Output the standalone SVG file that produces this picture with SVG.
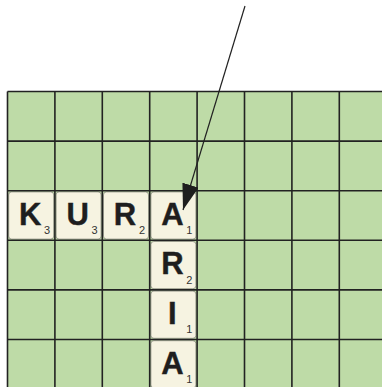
<svg xmlns="http://www.w3.org/2000/svg" width="382" height="387" viewBox="0 0 382 387">
<defs>
<style>
.board{fill:#bedba7}
.grid line{stroke:#222;stroke-width:1.6}
.tile rect{fill:#f6f3e1;stroke:#8a8a80;stroke-width:0.8}
.let{font-family:"Liberation Sans",Arial,sans-serif;font-weight:bold;font-size:31px;fill:#1e1e1e;text-anchor:middle;stroke:#1e1e1e;stroke-width:0.4}
.num{font-family:"Liberation Sans",Arial,sans-serif;font-size:11px;fill:#333;text-anchor:end}
.conn{stroke:#222;stroke-width:1.2;fill:none}
</style>
<marker id="ah" viewBox="0 0 26 17" refX="26" refY="8.5" markerWidth="26" markerHeight="17" markerUnits="userSpaceOnUse" orient="auto">
<path d="M0,0 L26,8.5 L0,17 z" fill="#1e1e1e"/>
</marker>
</defs>
<rect class="board" x="7.5" y="91.5" width="375" height="296"/>
<g id="tile-K" class="tile"><rect x="8.7" y="191.9" width="45" height="47.2" rx="3"/><text class="let" x="30.2" y="224.7">K</text><text class="num" x="50.2" y="234">3</text></g>
<g id="tile-U" class="tile"><rect x="56.1" y="191.9" width="45" height="47.2" rx="3"/><text class="let" x="77.6" y="224.7">U</text><text class="num" x="97.6" y="234">3</text></g>
<g id="tile-R" class="tile"><rect x="103.5" y="191.9" width="45" height="47.2" rx="3"/><text class="let" x="125" y="224.7">R</text><text class="num" x="145" y="234">2</text></g>
<g id="tile-A1" class="tile"><rect x="150.9" y="191.9" width="45" height="47.2" rx="3"/><text class="let" x="172.4" y="224.7">A</text><text class="num" x="192.4" y="234">1</text></g>
<g id="tile-R2" class="tile"><rect x="150.9" y="241.5" width="45" height="47.2" rx="3"/><text class="let" x="172.4" y="274.3">R</text><text class="num" x="192.4" y="283.6">2</text></g>
<g id="tile-I" class="tile"><rect x="150.9" y="291.1" width="45" height="47.2" rx="3"/><text class="let" x="172.4" y="323.9">I</text><text class="num" x="192.4" y="333.2">1</text></g>
<g id="tile-A2" class="tile"><rect x="150.9" y="340.7" width="45" height="47.2" rx="3"/><text class="let" x="172.4" y="373.5">A</text><text class="num" x="192.4" y="382.8">1</text></g>
<g class="grid">
<line x1="7.5" y1="91.5" x2="382" y2="91.5"/>
<line x1="7.5" y1="141.1" x2="382" y2="141.1"/>
<line x1="7.5" y1="190.7" x2="382" y2="190.7"/>
<line x1="7.5" y1="240.3" x2="382" y2="240.3"/>
<line x1="7.5" y1="289.9" x2="382" y2="289.9"/>
<line x1="7.5" y1="339.5" x2="382" y2="339.5"/>
<line x1="7.5" y1="91.5" x2="7.5" y2="387"/>
<line x1="54.9" y1="91.5" x2="54.9" y2="387"/>
<line x1="102.3" y1="91.5" x2="102.3" y2="387"/>
<line x1="149.7" y1="91.5" x2="149.7" y2="387"/>
<line x1="197.1" y1="91.5" x2="197.1" y2="387"/>
<line x1="244.5" y1="91.5" x2="244.5" y2="387"/>
<line x1="291.9" y1="91.5" x2="291.9" y2="387"/>
<line x1="339.3" y1="91.5" x2="339.3" y2="387"/>
</g>
<g id="connectors">
<line class="conn" x1="245" y1="6" x2="183" y2="210" marker-end="url(#ah)"/>
</g>
</svg>
